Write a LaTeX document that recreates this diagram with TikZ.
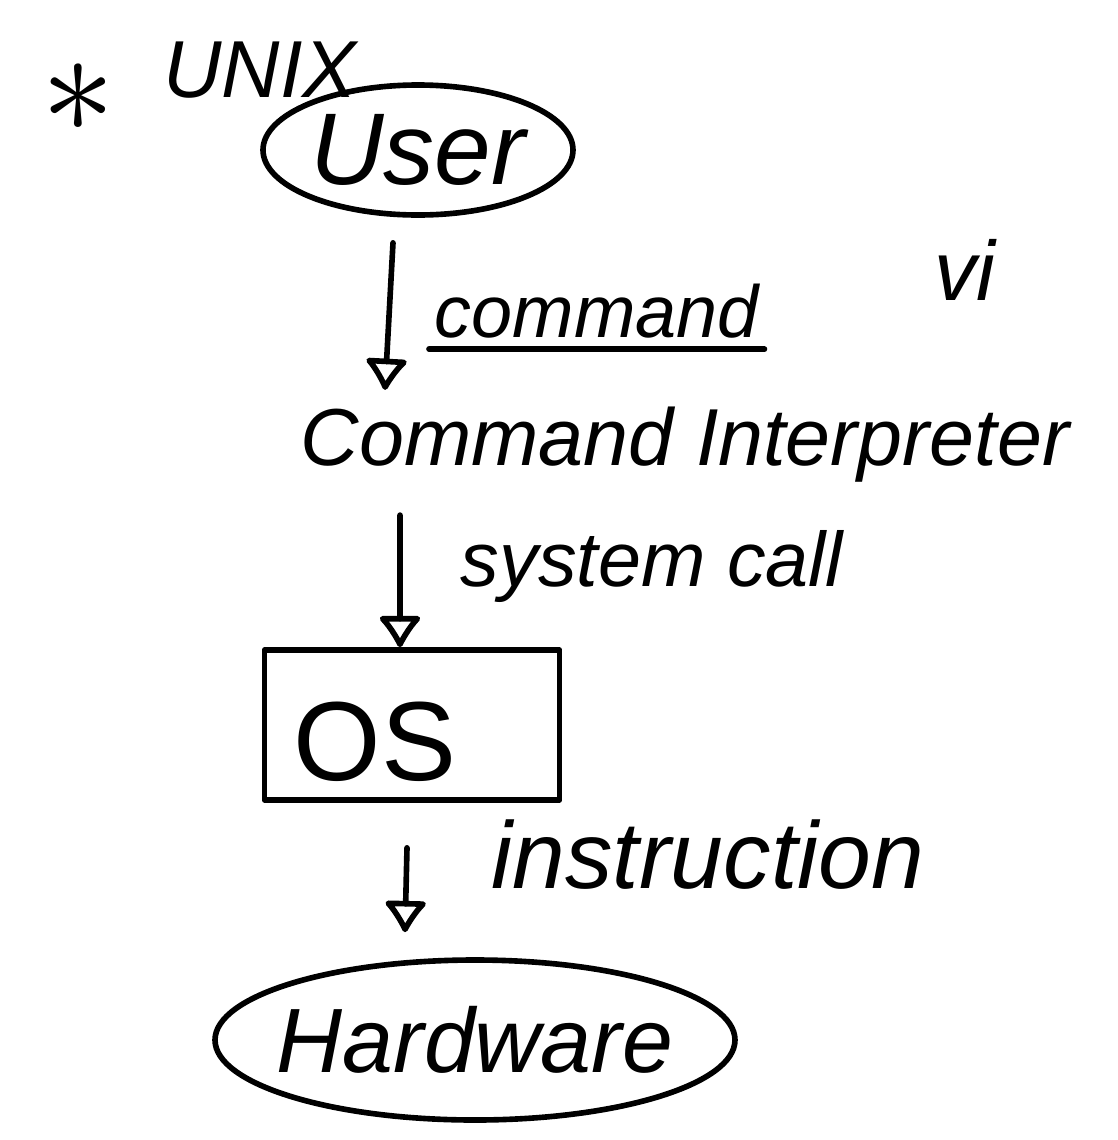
\documentclass[tikz,border=0pt]{standalone}
\usepackage{fontspec}
\setmainfont{Liberation Sans}
\usetikzlibrary{arrows.meta,shapes.geometric}

\tikzset{
  hand/.style={line width=1.6pt, line cap=round, line join=round},
  flow/.style={hand, -{Latex[open,round,length=10pt,width=14pt]}},
  oval/.style={hand, draw, ellipse, inner ysep=0pt},
  lbl/.style={inner sep=0pt, anchor=west}
}

\begin{document}
\begin{tikzpicture}[x=1cm, y=1cm]
            \useasboundingbox (0,0) rectangle (11.18,-11.40);

            % Titulo
            \node[scale=4.2, inner sep=0pt] (star) at (0.78,-0.98) {$\ast$};
            \node (unix) at (2.60,-0.70) {\fontsize{23}{28}\selectfont\itshape UNIX};

            % Usuario
            \node[oval, inner xsep=-0.2cm, minimum width=3.10cm, minimum height=1.30cm] (user) at (4.18,-1.50)
                {\fontsize{29}{34}\selectfont\itshape User};

            % Interprete de comandos
            \node (interp) at (6.85,-4.45) {\fontsize{23}{28}\selectfont\itshape Command Interpreter};
            \node (vi) at (9.65,-2.70) {\fontsize{24}{28}\selectfont\itshape vi};

            % Sistema operativo
            \node[hand, draw, minimum width=2.95cm, minimum height=1.50cm] (osbox) at (4.12,-7.25) {};
            \node (os) at (3.75,-7.42) {\fontsize{32}{36}\selectfont OS};

            % Hardware
            \node[oval, inner xsep=-0.45cm, minimum width=5.20cm, minimum height=1.60cm] (hw) at (4.75,-10.40)
                {\fontsize{26}{30}\selectfont\itshape Hardware};

            % Flechas
            \draw[flow] ([xshift=-0.25cm,yshift=-0.25cm]user.south) -- ([xshift=-3.00cm,yshift=0.05cm]interp.north)
                coordinate[pos=0.5] (c1);
            \draw[flow] ([xshift=-2.85cm,yshift=-0.20cm]interp.south) -- ([xshift=-0.12cm]osbox.north)
                coordinate[pos=0.5] (c2);
            \draw[flow] ([xshift=-0.05cm,yshift=-0.45cm]osbox.south) -- ([xshift=-0.70cm,yshift=0.25cm]hw.north)
                coordinate[pos=0.5] (c3);

            % Etiquetas
            \node[lbl] (cmd) at ([xshift=0.45cm,yshift=0.05cm]c1)
                {\fontsize{21}{26}\selectfont\itshape command};
            \draw[hand] ([xshift=-0.05cm,yshift=-0.10cm]cmd.south west) -- ([xshift=0.05cm,yshift=-0.10cm]cmd.south east);
            \node[lbl] (sys) at ([xshift=0.60cm,yshift=0.15cm]c2)
                {\fontsize{22}{26}\selectfont\itshape system call};
            \node[lbl] (ins) at ([xshift=0.85cm,yshift=0.35cm]c3)
                {\fontsize{27}{30}\selectfont\itshape instruction};
        \end{tikzpicture}
\end{document}
